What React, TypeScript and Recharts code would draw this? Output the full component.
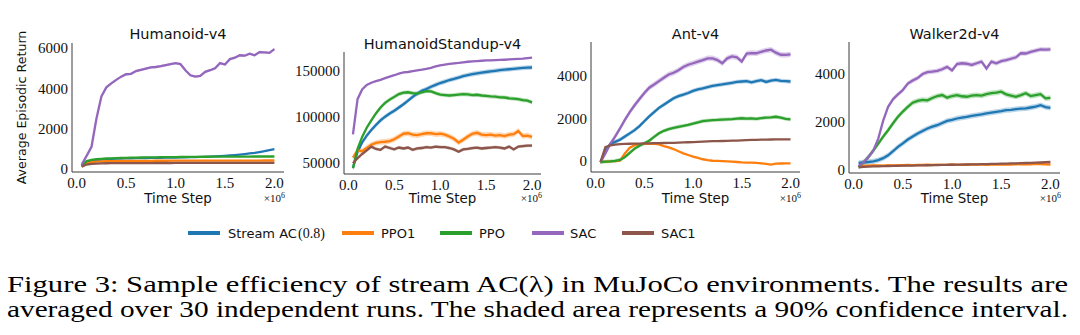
import React from 'react';
import { ComposedChart, Line, Area, XAxis, YAxis } from 'recharts';

// shared time grid (x 1e6 steps)
const T = [
  0.05, 0.1, 0.15, 0.2, 0.25, 0.3, 0.35, 0.4, 0.45, 0.5,
  0.55, 0.6, 0.65, 0.7, 0.75, 0.8, 0.85, 0.9, 0.95, 1.0,
  1.05, 1.1, 1.15, 1.2, 1.25, 1.3, 1.35, 1.4, 1.45, 1.5,
  1.55, 1.6, 1.65, 1.7, 1.75, 1.8, 1.85, 1.9, 1.95, 2.0,
];
const X_TICKS = [0, 0.5, 1, 1.5, 2];

const SERIES_NAMES = ['Stream AC', 'PPO1', 'PPO', 'SAC', 'SAC1'];
const COLORS = ['#1f77b4', '#ff7f0e', '#2ca02c', '#9467bd', '#8c564b'];

// Humanoid-v4
const humanoidStream = [150, 320, 400, 440, 465, 485, 500, 510, 520, 525, 530, 535, 540, 545, 550, 555, 558, 562, 566, 570, 575, 580, 585, 590, 597, 605, 615, 628, 640, 655, 672, 692, 715, 740, 770, 800, 840, 880, 930, 980];
const humanoidPPO1 = [140, 290, 340, 365, 378, 385, 390, 394, 397, 400, 402, 403, 404, 405, 406, 407, 408, 409, 410, 411, 411, 412, 412, 413, 413, 414, 414, 415, 415, 416, 416, 417, 417, 418, 418, 419, 419, 420, 420, 420];
const humanoidPPO = [160, 390, 450, 485, 505, 520, 530, 540, 548, 555, 560, 565, 570, 573, 576, 580, 583, 586, 589, 592, 595, 598, 600, 602, 604, 606, 608, 610, 611, 612, 613, 614, 615, 616, 617, 618, 618, 619, 619, 620];
const humanoidSAC = [210, 650, 1100, 2500, 3600, 4050, 4250, 4420, 4580, 4700, 4720, 4860, 4920, 4980, 5040, 5060, 5100, 5150, 5200, 5250, 5200, 4900, 4650, 4580, 4620, 4820, 4900, 5000, 5250, 5180, 5450, 5520, 5640, 5620, 5720, 5640, 5800, 5780, 5760, 5950];
const humanoidSAC1 = [110, 220, 255, 270, 278, 283, 286, 288, 290, 291, 292, 293, 294, 295, 295, 296, 296, 297, 297, 298, 298, 298, 299, 299, 299, 300, 300, 300, 301, 301, 301, 302, 302, 302, 303, 303, 303, 304, 304, 305];
const humanoidBand = [20, 25, 20, 60, 15];
const humanoidTicks = [0, 2000, 4000, 6000];

// HumanoidStandup-v4
const standupStream = [44500, 62000, 72000, 79500, 85500, 91000, 96000, 100000, 103500, 106500, 110000, 113500, 117500, 121500, 125000, 128000, 130000, 132500, 134500, 136500, 138000, 139800, 141000, 142500, 144000, 145200, 146200, 147000, 147800, 148500, 149200, 149800, 150500, 151000, 151500, 152000, 152500, 152900, 153200, 153400];
const standupPPO1 = [55500, 63500, 62500, 66000, 69500, 71500, 72500, 72800, 73500, 75500, 78500, 81500, 82000, 80500, 80000, 81000, 82000, 82000, 81000, 81500, 80500, 78500, 76000, 72000, 75000, 78500, 81500, 82500, 80500, 80000, 80500, 79500, 80000, 79000, 80500, 81000, 84500, 79000, 79500, 78000];
const standupPPO = [44000, 65000, 78000, 88000, 96000, 103500, 110000, 115000, 118500, 121500, 124500, 126000, 126500, 125500, 125000, 126500, 127800, 127500, 125500, 124000, 123500, 123000, 123500, 124000, 124500, 124200, 123500, 123800, 123000, 122500, 122000, 121800, 121000, 120800, 120000, 119500, 119000, 118000, 117500, 115500];
const standupSAC = [80800, 119000, 129500, 134500, 136800, 138500, 140000, 141800, 143500, 145000, 146800, 148000, 148500, 149500, 150300, 151000, 152000, 153000, 154500, 155800, 156500, 157200, 157800, 158300, 159000, 159600, 160000, 160300, 160700, 161000, 161200, 161400, 161600, 161800, 162100, 162400, 162700, 163000, 163500, 164100];
const standupSAC1 = [49500, 55000, 59500, 63500, 67500, 65000, 64000, 67500, 66000, 64500, 66500, 65500, 66500, 64000, 65500, 66000, 67000, 66500, 67500, 67000, 67000, 66000, 64500, 62000, 64500, 65000, 66000, 66500, 65500, 66000, 66500, 67000, 66500, 65500, 67500, 64500, 67500, 68000, 68500, 68500];
const standupBand = [2500, 3000, 2200, 800, 1800];
const standupTicks = [50000, 100000, 150000];

// Ant-v4
const antStream = [-50, 450, 800, 900, 1000, 1150, 1300, 1450, 1640, 1870, 2100, 2300, 2500, 2650, 2800, 2950, 3050, 3120, 3200, 3300, 3370, 3420, 3480, 3530, 3570, 3600, 3640, 3680, 3720, 3740, 3760, 3700, 3760, 3800, 3720, 3780, 3820, 3770, 3760, 3740];
const antPPO1 = [-50, -30, -20, -10, 10, 350, 620, 740, 790, 800, 810, 800, 780, 700, 640, 560, 460, 360, 280, 200, 140, 80, 40, 10, 0, -10, -20, -30, -50, -70, -80, -80, -90, -110, -140, -170, -130, -120, -110, -110];
const antPPO = [-50, -30, -20, 0, 50, 180, 380, 580, 720, 830, 950, 1130, 1300, 1420, 1500, 1560, 1610, 1650, 1700, 1760, 1820, 1880, 1900, 1920, 1930, 1950, 1960, 1970, 1990, 2010, 1990, 2000, 1980, 2020, 2040, 2050, 2080, 2040, 1980, 1960];
const antSAC = [-50, 350, 800, 1150, 1530, 1930, 2300, 2620, 2920, 3200, 3450, 3600, 3760, 3920, 4070, 4150, 4270, 4420, 4530, 4600, 4680, 4750, 4830, 4830, 4750, 4600, 4830, 4920, 4880, 4680, 5050, 5080, 5070, 5140, 5200, 5240, 5100, 5000, 4990, 5020];
const antSAC1 = [-50, 650, 730, 770, 790, 800, 810, 815, 820, 825, 830, 835, 840, 845, 850, 855, 860, 870, 880, 890, 900, 910, 920, 930, 935, 940, 950, 955, 960, 970, 980, 990, 995, 1000, 1005, 1010, 1015, 1015, 1020, 1020];
const antBand = [100, 30, 90, 130, 25];
const antTicks = [0, 2000, 4000];

// Walker2d-v4
const walkerStream = [280, 300, 320, 350, 400, 480, 600, 770, 950, 1100, 1260, 1390, 1510, 1620, 1720, 1800, 1860, 1950, 2040, 2080, 2140, 2180, 2210, 2250, 2280, 2310, 2350, 2390, 2420, 2450, 2490, 2500, 2530, 2550, 2560, 2600, 2640, 2700, 2620, 2580];
const walkerPPO1 = [140, 160, 170, 175, 180, 170, 185, 180, 190, 185, 195, 190, 200, 195, 205, 195, 210, 200, 205, 215, 200, 210, 205, 215, 210, 220, 205, 215, 220, 210, 225, 215, 230, 220, 235, 225, 240, 230, 220, 215];
const walkerPPO = [110, 300, 530, 800, 1090, 1380, 1650, 1940, 2210, 2430, 2630, 2800, 2880, 2920, 2900, 3000, 3080, 3120, 3010, 3080, 3120, 3070, 3050, 3100, 3120, 3100, 3160, 3200, 3220, 3260, 3150, 3100, 3050, 3120, 3200, 3080, 3120, 3160, 2980, 3000];
const walkerSAC = [150, 300, 530, 800, 1300, 2050, 2630, 2950, 3150, 3330, 3600, 3730, 3830, 4000, 4080, 4100, 4130, 4200, 4300, 4150, 4420, 4450, 4430, 4380, 4450, 4520, 4230, 4520, 4450, 4540, 4580, 4640, 4700, 4870, 4860, 4930, 4980, 5030, 5020, 5030];
const walkerSAC1 = [100, 120, 130, 135, 140, 145, 150, 155, 160, 165, 168, 172, 176, 180, 184, 188, 192, 196, 200, 205, 208, 212, 216, 220, 225, 230, 235, 240, 245, 250, 255, 260, 266, 272, 278, 285, 292, 300, 310, 320];
const walkerBand = [110, 40, 110, 100, 25];
const walkerTicks = [0, 2000, 4000];

const X_DOMAIN: [number, number] = [-0.0475, 2.0975];
const AXIS_COLOR = '#3a3a3a';
const TICK_STYLE = { fontFamily: '"Liberation Serif", serif', fontSize: 15, fill: '#111' };
const SANS = '"DejaVu Sans", sans-serif';
const SERIF = '"Liberation Serif", serif';

const Y_W = 70;
const MT = 12;
const MR = 12;
const X_H = 30;

const panels = [
  { title: 'Humanoid-v4', left: 72, top: 43, plotW: 212, plotH: 129, yDomain: [-150, 6250], yTicks: humanoidTicks, values: [humanoidStream, humanoidPPO1, humanoidPPO, humanoidSAC, humanoidSAC1], bands: humanoidBand },
  { title: 'HumanoidStandup-v4', left: 344, top: 52, plotW: 197, plotH: 122, yDomain: [37800, 170200], yTicks: standupTicks, values: [standupStream, standupPPO1, standupPPO, standupSAC, standupSAC1], bands: standupBand },
  { title: 'Ant-v4', left: 591, top: 42, plotW: 209, plotH: 130, yDomain: [-520, 5600], yTicks: antTicks, values: [antStream, antPPO1, antPPO, antSAC, antSAC1], bands: antBand },
  { title: 'Walker2d-v4', left: 849, top: 42, plotW: 211, plotH: 131, yDomain: [-140, 5340], yTicks: walkerTicks, values: [walkerStream, walkerPPO1, walkerPPO, walkerSAC, walkerSAC1], bands: walkerBand },
];

const Panel = ({ left, top, plotW, plotH, yDomain, yTicks, values, bands }: any) => {
  const rows = T.map((t, i) => {
    const row: Record<string, any> = { t };
    values.forEach((vals: number[], k: number) => {
      row['s' + k] = vals[i];
      row['b' + k] = [vals[i] - bands[k], vals[i] + bands[k]];
    });
    return row;
  });

  // band then line for each series, in legend order
  const items: React.ReactNode[] = [];
  values.forEach((_: number[], k: number) => {
    items.push(
      <Area key={'b' + k} type="linear" dataKey={'b' + k} stroke="none" fill={COLORS[k]} fillOpacity={0.3} isAnimationActive={false} activeDot={false} />
    );
    items.push(
      <Line key={'s' + k} type="linear" dataKey={'s' + k} stroke={COLORS[k]} strokeWidth={2.3} dot={false} activeDot={false} isAnimationActive={false} />
    );
  });

  return (
    <div style={{ position: 'absolute', left: left - Y_W, top: top - MT }}>
      <ComposedChart width={Y_W + plotW + MR} height={MT + plotH + X_H} data={rows} margin={{ top: MT, right: MR, left: 0, bottom: 0 }}>
        <XAxis type="number" dataKey="t" domain={X_DOMAIN} ticks={X_TICKS} allowDataOverflow interval={0}
          tickFormatter={(v: number) => v.toFixed(1)} tickLine={false} tickSize={0} tickMargin={5}
          axisLine={{ stroke: AXIS_COLOR, strokeWidth: 1 }} tick={TICK_STYLE} height={X_H} />
        <YAxis type="number" domain={yDomain} ticks={yTicks} allowDataOverflow interval={0}
          tickLine={false} tickSize={0} tickMargin={4}
          axisLine={{ stroke: AXIS_COLOR, strokeWidth: 1 }} tick={TICK_STYLE} width={Y_W} />
        {items}
      </ComposedChart>
    </div>
  );
};

const titleBaselines = [38.5, 48.5, 38.5, 38.5];
const legendSwatches = [188, 342, 440, 532, 622];
const legendTextX = [228, 381, 479, 570, 661];

export default function App() {
  return (
    <div style={{ position: 'absolute', left: 0, top: 0, width: 1080, height: 335, background: '#fff', overflow: 'hidden' }}>
      {panels.map((p) => (
        <Panel key={p.title} {...p} />
      ))}
      <svg width={1080} height={335} style={{ position: 'absolute', left: 0, top: 0, pointerEvents: 'none' }}>
        {panels.map((p, i) => {
          const cx = p.left + p.plotW / 2;
          const right = p.left + p.plotW;
          return (
            <g key={p.title}>
              <text x={cx} y={titleBaselines[i]} textAnchor="middle" fontFamily={SANS} fontSize={14.5} fill="#111">{p.title}</text>
              <text x={cx} y={203} textAnchor="middle" fontFamily={SANS} fontSize={13.4} fill="#111">Time Step</text>
              <text x={right + 1} y={201.5} textAnchor="end" fontFamily={SERIF} fontSize={11} fill="#111">
                ×10<tspan fontSize={8} dy={-4}>6</tspan>
              </text>
            </g>
          );
        })}
        <text x={25.5} y={107.5} transform="rotate(-90 25.5 107.5)" textAnchor="middle" fontFamily={SANS} fontSize={12.6} fill="#111">
          Average Episodic Return
        </text>

        {SERIES_NAMES.map((name, k) => (
          <g key={name}>
            <line x1={legendSwatches[k]} x2={legendSwatches[k] + 32} y1={233} y2={233} stroke={COLORS[k]} strokeWidth={4} />
            <text x={legendTextX[k]} y={238} fontFamily={SANS} fontSize={13} fill="#111">
              {name}
            </text>
          </g>
        ))}
        <text x={298} y={238} fontFamily={SERIF} fontSize={14} fill="#111">(0.8)</text>

        <text x={7} y={291.5} fontFamily={SERIF} fontSize={23} fill="#000" textLength={1061} lengthAdjust="spacingAndGlyphs">
          Figure 3: Sample efficiency of stream AC(λ) in MuJoCo environments. The results are
        </text>
        <text x={7} y={316.5} fontFamily={SERIF} fontSize={23} fill="#000" textLength={1061} lengthAdjust="spacingAndGlyphs">
          averaged over 30 independent runs. The shaded area represents a 90% confidence interval.
        </text>
      </svg>
    </div>
  );
}
